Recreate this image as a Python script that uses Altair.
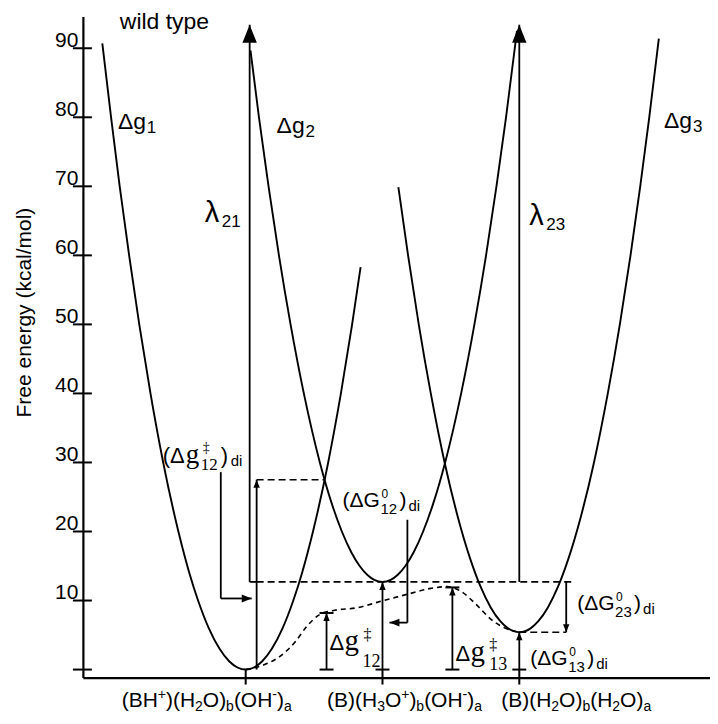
import altair as alt
import pandas as pd

# ---------------- values ----------------
y_tick_values = [0, 10, 20, 30, 40, 50, 60, 70, 80, 90]
y_label_values = [10, 20, 30, 40, 50, 60, 70, 80, 90]

# diabatic minima: reaction coordinate / free energy (kcal/mol)
well_x = [1.0, 2.0, 3.0]
well_e = [0.0, 12.7, 5.4]

# free-energy parabolas, points
g1_x = [-0.048, 0.016, 0.079, 0.148, 0.222, 0.304, 0.397, 0.508, 0.588, 0.652, 0.730, 0.809, 0.879,
        0.940, 1.000, 1.060, 1.121, 1.191, 1.270, 1.348, 1.412, 1.492, 1.603, 1.696, 1.778, 1.840]
g1_y = [90.7, 80, 70, 60, 50, 40, 30, 20, 14, 10, 6, 3, 1.2,
        0.3, 0, 0.3, 1.2, 3, 6, 10, 14, 20, 30, 40, 50, 58.3]
g2_x = [1.035, 1.097, 1.167, 1.243, 1.328, 1.425, 1.542, 1.630, 1.703, 1.772, 1.833, 1.890, 1.940,
        2.000, 2.060, 2.110, 2.167, 2.228, 2.297, 2.370, 2.458, 2.575, 2.672, 2.757, 2.833, 2.903, 2.983]
g2_y = [89.7, 80, 70, 60, 50, 40, 30, 24, 20, 17, 15, 13.7, 13.0,
        12.7, 13.0, 13.7, 15, 17, 20, 24, 30, 40, 50, 60, 70, 80, 92.5]
g3_x = [2.116, 2.187, 2.265, 2.353, 2.454, 2.552, 2.642, 2.717, 2.791, 2.861, 2.915,
        3.000, 3.085, 3.139, 3.209, 3.283, 3.358, 3.448, 3.546, 3.647, 3.735, 3.813, 3.884, 3.950, 4.020]
g3_y = [69.9, 60, 50, 40, 30, 22, 16, 12, 9, 7, 6,
        5.4, 6, 7, 9, 12, 16, 22, 30, 40, 50, 60, 70, 80, 91.4]

# dashed reaction path
path_x = [1.000, 1.139, 1.248, 1.358, 1.445, 1.540, 1.635, 1.818, 1.978, 2.197, 2.343, 2.474,
          2.577, 2.686, 2.796, 2.905, 3.000]
path_y = [0.0, 0.72, 1.88, 3.91, 6.22, 7.96, 8.53, 8.97, 9.84, 10.99, 11.72, 12.01,
          11.28, 9.40, 7.23, 5.93, 5.4]

cross12_x, cross12_e = 1.577, 27.5      # g1 / g2 crossing
lam21_x, lam23_x, lam_top = 1.029, 3.0, 93.4
dgdi_x = 1.080                           # (dg12)di arrow
barrier_x = [1.591, 2.511]               # dg12, dg13 bars
barrier_e = [8.2, 11.9]
dg23_x = 3.343
ptr1_x, ptr1_top, ptr1_y, ptr1_tip = 0.818, 28.6, 10.3, 1.044
ptr2_x, ptr2_top, ptr2_y, ptr2_tip = 2.182, 21.7, 6.8, 2.051

# ---------------- layout ----------------
X_DOM = [-0.19, 4.394]
Y_DOM = [-1.157, 94.6]
W, H = 628, 662
PXX = W / (X_DOM[1] - X_DOM[0])
PXY = H / (Y_DOM[1] - Y_DOM[0])
xs = alt.Scale(domain=X_DOM, zero=False, nice=False)
ys = alt.Scale(domain=Y_DOM, zero=False, nice=False)

x_axis = alt.Axis(domain=True, domainColor="black", domainWidth=2.2,
                  ticks=False, labels=False, grid=False, title="")
y_axis = alt.Axis(
    values=y_label_values, domain=True, domainColor="black", domainWidth=2.2,
    ticks=False, tickSize=0, grid=False,
    labelFont="Liberation Sans", labelFontSize=21, labelColor="black",
    labelBaseline="alphabetic", labelOffset=-2, labelPadding=5,
    title="Free energy (kcal/mol)", titleFont="Liberation Sans", titleFontSize=21,
    titleFontWeight="normal", titleColor="black", titleAngle=270, titleX=-58, titleY=296,
    titleAlign="center", titleBaseline="middle")


def X(f="x"):
    return alt.X(f"{f}:Q", scale=xs, axis=x_axis)


def Y(f="y"):
    return alt.Y(f"{f}:Q", scale=ys, axis=y_axis)


curves = pd.concat([
    pd.DataFrame({"x": g1_x, "y": g1_y, "c": "g1"}),
    pd.DataFrame({"x": g2_x, "y": g2_y, "c": "g2"}),
    pd.DataFrame({"x": g3_x, "y": g3_y, "c": "g3"}),
])

base = alt.Chart(curves).mark_line(color="black", strokeWidth=1.9, interpolate="monotone").encode(
    x=X(), y=Y(), detail="c:N")

path = alt.Chart(pd.DataFrame({"x": path_x, "y": path_y})).mark_line(
    color="black", strokeWidth=1.6, strokeDash=[5, 4], interpolate="monotone").encode(x=X(), y=Y())

solid = pd.DataFrame([
    dict(x=lam21_x, y=well_e[1], x2=lam21_x, y2=lam_top),
    dict(x=lam21_x, y=well_e[1], x2=dgdi_x, y2=well_e[1]),
    dict(x=lam23_x, y=well_e[1], x2=lam23_x, y2=lam_top),
    dict(x=dgdi_x, y=well_e[0], x2=dgdi_x, y2=cross12_e),
    dict(x=ptr1_x, y=ptr1_top, x2=ptr1_x, y2=ptr1_y),
    dict(x=ptr1_x, y=ptr1_y, x2=ptr1_tip, y2=ptr1_y),
    dict(x=ptr2_x, y=ptr2_top, x2=ptr2_x, y2=ptr2_y),
    dict(x=ptr2_x, y=ptr2_y, x2=ptr2_tip, y2=ptr2_y),
    dict(x=well_x[1], y=0, x2=well_x[1], y2=well_e[1]),
    dict(x=barrier_x[0], y=0, x2=barrier_x[0], y2=barrier_e[0]),
    dict(x=barrier_x[1], y=0, x2=barrier_x[1], y2=barrier_e[1]),
    dict(x=well_x[2], y=0, x2=well_x[2], y2=well_e[2]),
    dict(x=dg23_x, y=well_e[1], x2=dg23_x, y2=well_e[2]),
])
dashed = pd.DataFrame([
    dict(x=dgdi_x, y=well_e[1], x2=3.380, y2=well_e[1]),
    dict(x=dgdi_x, y=cross12_e, x2=cross12_x, y2=cross12_e),
    dict(x=well_x[2], y=well_e[2], x2=dg23_x, y2=well_e[2]),
])

solid_l = alt.Chart(solid).mark_rule(color="black", strokeWidth=1.8).encode(
    x=X(), y=Y(), x2="x2:Q", y2="y2:Q")
dashed_l = alt.Chart(dashed).mark_rule(color="black", strokeWidth=1.6, strokeDash=[7, 4]).encode(
    x=X(), y=Y(), x2="x2:Q", y2="y2:Q")

UP = "M0,0L-0.4,1L0.4,1Z"
DOWN = "M0,0L-0.4,-1L0.4,-1Z"
RIGHT = "M0,0L-1,-0.4L-1,0.4Z"
LEFT = "M0,0L1,-0.4L1,0.4Z"
heads = pd.DataFrame([
    dict(x=lam21_x, y=lam_top, shape=UP, size=1296),
    dict(x=lam23_x, y=lam_top, shape=UP, size=1296),
    dict(x=dgdi_x, y=cross12_e, shape=UP, size=256),
    dict(x=ptr1_tip, y=ptr1_y, shape=RIGHT, size=400),
    dict(x=ptr2_tip, y=ptr2_y, shape=LEFT, size=400),
    dict(x=well_x[1], y=well_e[1], shape=UP, size=256),
    dict(x=barrier_x[0], y=barrier_e[0], shape=UP, size=256),
    dict(x=barrier_x[1], y=barrier_e[1], shape=UP, size=256),
    dict(x=well_x[2], y=well_e[2], shape=UP, size=256),
    dict(x=dg23_x, y=well_e[2], shape=DOWN, size=256),
])
heads_l = alt.Chart(heads).mark_point(filled=True, color="black", opacity=1, strokeWidth=0).encode(
    x=X(), y=Y(), shape=alt.Shape("shape:N", scale=None), size=alt.Size("size:Q", scale=None))

caps = pd.DataFrame({
    "x": [barrier_x[0], barrier_x[0], barrier_x[1], barrier_x[1], well_x[1], well_x[2]],
    "y": [0, barrier_e[0], 0, barrier_e[1], 0, 0],
})
caps_l = alt.Chart(caps).mark_tick(orient="horizontal", size=14, thickness=2, color="black",
                                   opacity=1).encode(x=X(), y=Y())

xticks_l = alt.Chart(pd.DataFrame({"x": well_x})).mark_rule(color="black", strokeWidth=2).encode(
    x=X(), y=alt.value(654), y2=alt.value(669))
yticks_l = alt.Chart(pd.DataFrame({"y": y_tick_values})).mark_rule(color="black", strokeWidth=2).encode(
    y=Y(), x=alt.value(-10), x2=alt.value(9))

# ---------------- text ----------------
labels = [
    (0.080, 92.72, [("wild type", 0, 0, 23, "sans")]),
    (0.066, 78.26, [("Δg", 0, 0, 23, "sans"), ("1", 29, 4, 17, "sans")]),
    (1.226, 77.68, [("Δg", 0, 0, 23, "sans"), ("2", 29, 4, 17, "sans")]),
    (4.058, 78.40, [("Δg", 0, 0, 23, "sans"), ("3", 29, 4, 17, "sans")]),
    (0.701, 64.81, [("λ", 0, 0, 29, "sans"), ("21", 17, 5, 17, "sans")]),
    (3.073, 64.37, [("λ", 0, 0, 29, "sans"), ("23", 17, 5, 17, "sans")]),
    (0.394, 29.94, [("(Δ", 0, 0, 22, "sans"), ("g", 23, 0, 27, "serif"), ("‡", 40, -11, 14, "serif"),
                    ("12", 38, 7, 17, "serif"), (")", 58, 0, 22, "sans"), ("di", 68, 3, 15, "sans")]),
    (1.708, 23.58, [("(ΔG", 0, 0, 21, "sans"), ("0", 39, -9, 12, "sans"), ("12", 38, 7, 15, "sans"),
                    (")", 57, 0, 21, "sans"), ("di", 66, 4, 15, "sans")]),
    (3.423, 8.68, [("(ΔG", 0, 0, 21, "sans"), ("0", 39, -9, 12, "sans"), ("23", 38, 7, 15, "sans"),
                   (")", 57, 0, 21, "sans"), ("di", 66, 4, 15, "sans")]),
    (3.080, 0.72, [("(ΔG", 0, 0, 21, "sans"), ("0", 39, -9, 12, "sans"), ("13", 38, 7, 15, "sans"),
                   (")", 57, 0, 21, "sans"), ("di", 66, 4, 15, "sans")]),
    (1.613, 2.89, [("Δ", 0, 0, 22, "sans"), ("g", 15, 0, 29, "serif"), ("‡", 34, -10, 16, "serif"),
                   ("12", 33, 17, 18, "serif")]),
    (2.533, 1.30, [("Δ", 0, 0, 22, "sans"), ("g", 15, 0, 29, "serif"), ("‡", 34, -11, 16, "serif"),
                   ("13", 34, 9, 18, "serif")]),
]

state_labels = [
    [("(BH", "n"), ("+", "sup"), (")(H", "n"), ("2", "sub"), ("O)", "n"), ("b", "sub"),
     ("(OH", "n"), ("-", "sup"), (")", "n"), ("a", "sub")],
    [("(B)(H", "n"), ("3", "sub"), ("O", "n"), ("+", "sup"), (")", "n"), ("b", "sub"),
     ("(OH", "n"), ("-", "sup"), (")", "n"), ("a", "sub")],
    [("(B)(H", "n"), ("2", "sub"), ("O)", "n"), ("b", "sub"), ("(H", "n"), ("2", "sub"),
     ("O)", "n"), ("a", "sub")],
]
state_label_x = [0.715, 2.161, 3.416]
state_label_y = -5.45

ADV = {"(": 333, ")": 333, "B": 667, "H": 722, "O": 778, "+": 584, "-": 333}


def adv(s, size):
    return sum(ADV.get(c, 556) for c in s) * size / 1000.0


M, S = 21, 14
for cx, pieces in zip(state_label_x, state_labels):
    items, cur = [], 0.0
    for t, k in pieces:
        sz = M if k == "n" else S
        dy = 0 if k == "n" else (-8 if k == "sup" else 4)
        items.append((t, cur, dy, sz, "sans"))
        cur += adv(t, sz)
    labels.append((cx - cur / 2 / PXX, state_label_y, items))

rows = []
for ax, ay, pieces in labels:
    for t, dx, dy, sz, f in pieces:
        rows.append(dict(x=ax + dx / PXX, y=ay - dy / PXY, t=t, s=sz, f=f))
txt = pd.DataFrame(rows)

sans_l = alt.Chart(txt[txt.f == "sans"]).mark_text(
    font="Liberation Sans", align="left", baseline="alphabetic", color="black").encode(
    x=X(), y=Y(), text="t:N", size=alt.Size("s:Q", scale=None))
serif_l = alt.Chart(txt[txt.f == "serif"]).mark_text(
    font="Liberation Serif", align="left", baseline="alphabetic", color="black").encode(
    x=X(), y=Y(), text="t:N", size=alt.Size("s:Q", scale=None))

chart = alt.layer(
    base, path, solid_l, dashed_l, heads_l, caps_l, xticks_l, yticks_l, sans_l, serif_l
).properties(
    width=W, height=H,
    padding={"left": 75, "top": 8, "right": 0, "bottom": 42},
    autosize=alt.AutoSizeParams(type="none"),
    background="white",
).configure_view(strokeWidth=0).configure_axis(grid=False)

chart.save("out.html", embed_options={"renderer": "svg", "actions": False})
